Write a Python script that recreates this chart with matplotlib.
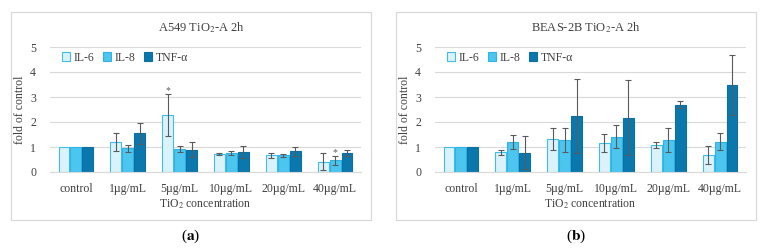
import matplotlib
matplotlib.use('Agg')
import matplotlib.pyplot as plt
import matplotlib.patches as mpatches
import numpy as np

plt.rcParams['font.family'] = ['Liberation Serif', 'DejaVu Serif']
plt.rcParams['mathtext.fontset'] = 'stix'

categories = ['control', '1µg/mL', '5µg/mL', '10µg/mL', '20µg/mL', '40µg/mL']
series = ['IL-6', 'IL-8', 'TNF-α']

a_il6 = [1.0, 1.20, 2.28, 0.72, 0.67, 0.42]
a_il6_err = [0, 0.37, 0.85, 0.03, 0.10, 0.35]
a_il8 = [1.0, 0.95, 0.93, 0.75, 0.67, 0.47]
a_il8_err = [0, 0.15, 0.11, 0.08, 0.07, 0.17]
a_tnf = [1.0, 1.55, 0.90, 0.80, 0.83, 0.75]
a_tnf_err = [0, 0.43, 0.30, 0.23, 0.18, 0.12]

b_il6 = [1.0, 0.80, 1.32, 1.17, 1.08, 0.68]
b_il6_err = [0, 0.10, 0.45, 0.37, 0.13, 0.37]
b_il8 = [1.0, 1.20, 1.28, 1.42, 1.28, 1.22]
b_il8_err = [0, 0.28, 0.47, 0.45, 0.48, 0.35]
b_tnf = [1.0, 0.78, 2.25, 2.17, 2.70, 3.48]
b_tnf_err = [0, 0.65, 1.48, 1.50, 0.15, 1.20]

# (series index, category index) of bars marked with *
a_stars = [(0, 2), (1, 5)]
b_stars = []

fills = ['#dcf2fb', '#4cc5ef', '#0b78ad']
edges = ['#3ebde9', '#2db3e6', '#0b6fa2']
grid_c = '#d9d9d9'
err_c = '#5a5a5a'
txt_c = '#404040'

W, H = 767, 250
fig = plt.figure(figsize=(W / 100, H / 100), dpi=100)


def panel(x0, title, vals, errs, stars, letter):
    ax = fig.add_axes([(x0 + 39) / W, 1 - 172 / H, 311 / W, 125 / H])
    # outer frame of the panel
    fig.add_artist(mpatches.Rectangle(((x0) / W, 1 - 220 / H), 360 / W, 208 / H,
                                      transform=fig.transFigure, fill=False,
                                      edgecolor=grid_c, lw=0.9))
    x = np.arange(len(categories))
    w = 0.21
    for i, (v, e) in enumerate(zip(vals, errs)):
        pos = x + (i - 1) * (w + 0.02)
        ax.bar(pos, v, w, color=fills[i], edgecolor=edges[i], lw=0.8,
               label=series[i], zorder=2)
        ax.errorbar(pos[1:], v[1:], yerr=e[1:], fmt='none', ecolor=err_c,
                    elinewidth=0.8, capsize=2, capthick=0.8, zorder=3)
    for si, ci in stars:
        pos = ci + (si - 1) * (w + 0.02)
        ax.text(pos, vals[si][ci] + errs[si][ci] - 0.05, '*', ha='center',
                va='bottom', fontsize=7, color=err_c)
    ax.set_ylim(0, 5)
    ax.set_xlim(-0.5, len(categories) - 0.5)
    ax.set_yticks(range(6))
    ax.set_xticks(x)
    ax.set_xticklabels(categories)
    ax.tick_params(length=0, labelsize=8.5, colors=txt_c, pad=8)
    ax.tick_params(axis='y', pad=10)
    ax.grid(axis='y', color=grid_c, lw=0.8, zorder=0)
    for s in ['top', 'right', 'left']:
        ax.spines[s].set_visible(False)
    ax.spines['bottom'].set_color(grid_c)
    ax.set_axisbelow(True)
    ax.set_ylabel('fold of control', fontsize=8.5, color=txt_c, labelpad=3)
    ax.set_xlabel('TiO$_2$ concentration', fontsize=8.5, color=txt_c, labelpad=2)
    ax.legend(loc='upper left', ncol=3, frameon=False, fontsize=8.5,
              handlelength=0.7, handleheight=0.7, handletextpad=0.3,
              columnspacing=0.7, borderaxespad=0.1, labelcolor=txt_c,
              bbox_to_anchor=(0.02, 1.01))
    fig.text((x0 + 190) / W, 1 - 28 / H, title, ha='center', va='center',
             fontsize=9, color=txt_c)
    fig.text((x0 + 180) / W, 1 - 236 / H, '(' + r'$\mathbf{' + letter + '}$' + ')',
             ha='center', va='center', fontsize=11, color='black')
    return ax


panel(11, 'A549 TiO$_2$-A 2h', [a_il6, a_il8, a_tnf],
      [a_il6_err, a_il8_err, a_tnf_err], a_stars, 'a')
panel(396, 'BEAS-2B TiO$_2$-A 2h', [b_il6, b_il8, b_tnf],
      [b_il6_err, b_il8_err, b_tnf_err], b_stars, 'b')

fig.savefig('out.png', dpi=100)
